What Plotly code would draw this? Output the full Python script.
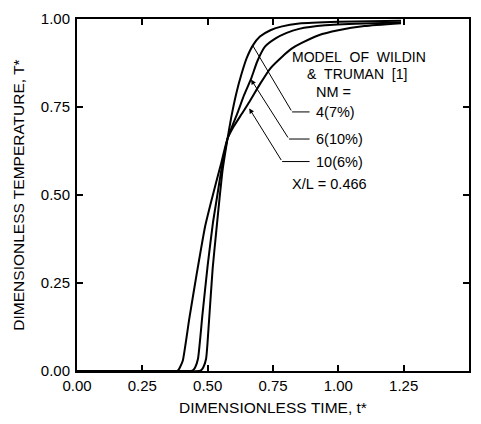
import plotly.graph_objects as go

# NM = 4 (7%) - steepest curve
t_nm4 = [0.0, 0.15, 0.30, 0.40, 0.468, 0.476, 0.483, 0.494, 0.505, 0.519, 0.532, 0.544, 0.557, 0.576, 0.59, 0.61, 0.63, 0.65, 0.673, 0.70, 0.74, 0.785, 0.85, 1.0, 1.24]
T_nm4 = [0.0, 0.0, 0.0, 0.0, 0.0, 0.003, 0.01, 0.035, 0.14, 0.29, 0.39, 0.48, 0.57, 0.66, 0.72, 0.79, 0.845, 0.89, 0.925, 0.95, 0.968, 0.979, 0.987, 0.992, 0.995]

# NM = 6 (10%) - middle curve
t_nm6 = [0.0, 0.15, 0.30, 0.38, 0.437, 0.445, 0.452, 0.463, 0.48, 0.50, 0.52, 0.535, 0.551, 0.576, 0.615, 0.64, 0.666, 0.69, 0.72, 0.76, 0.80, 0.85, 0.95, 1.1, 1.24]
T_nm6 = [0.0, 0.0, 0.0, 0.0, 0.0, 0.003, 0.01, 0.035, 0.16, 0.30, 0.42, 0.49, 0.565, 0.66, 0.735, 0.785, 0.83, 0.88, 0.922, 0.945, 0.96, 0.972, 0.982, 0.987, 0.99]

# NM = 10 (6%) - shallowest curve
t_nm10 = [0.0, 0.12, 0.24, 0.33, 0.383, 0.389, 0.395, 0.405, 0.43, 0.459, 0.49, 0.513, 0.532, 0.55, 0.576, 0.60, 0.63, 0.66, 0.70, 0.74, 0.785, 0.82, 0.86, 0.925, 1.0, 1.1, 1.24]
T_nm10 = [0.0, 0.0, 0.0, 0.0, 0.0, 0.004, 0.012, 0.03, 0.15, 0.28, 0.41, 0.48, 0.535, 0.585, 0.66, 0.695, 0.73, 0.765, 0.815, 0.86, 0.893, 0.915, 0.932, 0.954, 0.968, 0.98, 0.988]

x_ticks = [0.0, 0.25, 0.5, 0.75, 1.0, 1.25, 1.5]
x_tick_labels = ["0.00", "0.25", "0.50", "0.75", "1.00", "1.25", "1.50"]
y_ticks = [0.0, 0.25, 0.5, 0.75, 1.0]
y_tick_labels = ["0.00", "0.25", "0.50", "0.75", "1.00"]

labels = ["4(7%)", "6(10%)", "10(6%)"]
# leader: tip on curve, elbow, horizontal end (data coords)
leader_tip = [(0.673, 0.924), (0.666, 0.828), (0.659, 0.746)]
leader_elbow = [(0.823, 0.736), (0.811, 0.659), (0.785, 0.595)]
leader_end_x = 0.89

FONT = "Liberation Sans, Arial, sans-serif"
NB = "\u00a0"

fig = go.Figure()
for tx, ty in [(t_nm4, T_nm4), (t_nm6, T_nm6), (t_nm10, T_nm10)]:
    fig.add_trace(go.Scatter(x=tx, y=ty, mode="lines",
                             line=dict(color="black", width=2, shape="spline", smoothing=0.5),
                             showlegend=False, hoverinfo="skip"))

annotations = []
shapes = []
for i, lab in enumerate(labels):
    (tx, ty), (ex, ey) = leader_tip[i], leader_elbow[i]
    annotations.append(dict(x=tx, y=ty, ax=ex, ay=ey, xref="x", yref="y", axref="x", ayref="y",
                            text="", showarrow=True, arrowhead=0 if i == 0 else 2,
                            arrowsize=1.0, arrowwidth=1, arrowcolor="black"))
    shapes.append(dict(type="line", xref="x", yref="y", x0=ex, y0=ey, x1=leader_end_x, y1=ey,
                       line=dict(color="black", width=1)))
    annotations.append(dict(x=0.905, y=ey, xref="x", yref="y", text=lab, showarrow=False,
                            xanchor="left", yanchor="middle", font=dict(size=14.5, color="black", family=FONT)))

annotations += [
    dict(x=0.815, y=0.892, xref="x", yref="y", text="MODEL" + NB * 2 + "OF" + NB * 2 + "WILDIN", showarrow=False,
         xanchor="left", yanchor="middle", font=dict(size=14, color="black", family=FONT)),
    dict(x=0.872, y=0.845, xref="x", yref="y", text="&" + NB * 2 + "TRUMAN" + NB * 2 + "[1]", showarrow=False,
         xanchor="left", yanchor="middle", font=dict(size=14, color="black", family=FONT)),
    dict(x=0.905, y=0.792, xref="x", yref="y", text="NM =", showarrow=False,
         xanchor="left", yanchor="middle", font=dict(size=14.5, color="black", family=FONT)),
    dict(x=0.815, y=0.532, xref="x", yref="y", text="X/L" + NB + "=" + NB + "0.466", showarrow=False,
         xanchor="left", yanchor="middle", font=dict(size=14.5, color="black", family=FONT)),
]

axis_common = dict(showgrid=False, zeroline=False, showline=True, linecolor="black", linewidth=2,
                   mirror="ticks", ticks="inside", ticklen=6, tickwidth=1.5, tickcolor="black",
                   tickfont=dict(size=15, color="black", family=FONT))

fig.update_layout(
    width=481, height=424,
    margin=dict(l=77, r=10, t=14, b=45),
    paper_bgcolor="white", plot_bgcolor="white",
    xaxis=dict(range=[0, 1.5], tickvals=x_ticks, ticktext=x_tick_labels,
               title=dict(text="DIMENSIONLESS" + NB + "TIME," + NB + "t*", font=dict(size=15.5, color="black", family=FONT), standoff=9),
               ticklabelstandoff=0, **axis_common),
    yaxis=dict(range=[0, 1.0], tickvals=y_ticks, ticktext=y_tick_labels,
               title=dict(text="DIMENSIONLESS TEMPERATURE, T*", font=dict(size=15.5, color="black", family=FONT), standoff=12),
               ticklabelstandoff=2, **axis_common),
    annotations=annotations, shapes=shapes,
)

fig.write_html("out.html")
